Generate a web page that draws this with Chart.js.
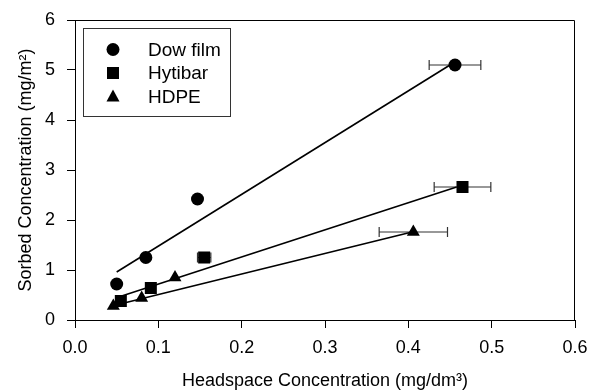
<!DOCTYPE html>
<html>
<head>
<meta charset="utf-8">
<script src="https://cdn.jsdelivr.net/npm/chart.js@4/dist/chart.umd.min.js"></script>
<style>
  html, body { margin: 0; padding: 0; background: #fff; }
  #wrap { width: 589px; height: 392px; }
</style>
</head>
<body>
<div id="wrap"><canvas id="myChart"></canvas></div>
<script>
const seriesNames = ['Dow film', 'Hytibar', 'HDPE'];

const dowX = [0.050, 0.085, 0.147, 0.456];
const dowY = [0.72, 1.25, 2.42, 5.10];
const dowErr = [0, 0, 0, 0.031];

const hytX = [0.055, 0.091, 0.155, 0.465];
const hytY = [0.38, 0.64, 1.25, 2.66];
const hytErr = [0, 0, 0.008, 0.034];

const hdpeX = [0.046, 0.080, 0.120, 0.406];
const hdpeY = [0.28, 0.44, 0.85, 1.76];
const hdpeErr = [0, 0, 0, 0.041];

// fitted lines, end points
const dowFitX = [0.050, 0.450];
const dowFitY = [0.96, 5.10];
const hytFitX = [0.056, 0.458];
const hytFitY = [0.48, 2.66];
const hdpeFitX = [0.054, 0.402];
const hdpeFitY = [0.32, 1.75];

const xTicks = [0, 0.1, 0.2, 0.3, 0.4, 0.5, 0.6];
const yTicks = [0, 1, 2, 3, 4, 5, 6];

const FONT = '"Liberation Sans", Arial, sans-serif';

function pts(xs, ys) {
    return xs.map((x, i) => ({ x: x, y: ys[i] }));
}

const markers = [
    { style: 'circle', radius: 6.5 },
    { style: 'rect', radius: 8.5 },
    { style: 'triangle', radius: 7.5 }
];
const errs = [dowErr, hytErr, hdpeErr];

function fitLine(xs, ys) {
    return {
        type: 'line',
        data: pts(xs, ys),
        borderColor: '#000',
        borderWidth: 1.6,
        pointRadius: 0,
        showLine: true,
        fill: false
    };
}

function markerSet(i, xs, ys) {
    return {
        type: 'scatter',
        label: seriesNames[i],
        data: pts(xs, ys),
        pointStyle: markers[i].style,
        pointRadius: markers[i].radius,
        pointHoverRadius: markers[i].radius,
        backgroundColor: '#000',
        borderColor: '#000',
        borderWidth: 0,
        errIndex: i
    };
}

const errorBars = {
    id: 'errorBars',
    beforeDatasetsDraw(chart) {
        const { ctx, scales: { x, y } } = chart;
        ctx.save();
        ctx.strokeStyle = '#333';
        ctx.lineWidth = 1.2;
        chart.data.datasets.forEach(ds => {
            if (ds.errIndex === undefined) return;
            const e = errs[ds.errIndex];
            ds.data.forEach((p, i) => {
                if (!e[i]) return;
                const x1 = x.getPixelForValue(p.x - e[i]);
                const x2 = x.getPixelForValue(p.x + e[i]);
                const py = y.getPixelForValue(p.y);
                ctx.beginPath();
                ctx.moveTo(x1, py); ctx.lineTo(x2, py);
                ctx.moveTo(x1, py - 5); ctx.lineTo(x1, py + 5);
                ctx.moveTo(x2, py - 5); ctx.lineTo(x2, py + 5);
                ctx.stroke();
            });
        });
        ctx.restore();
    }
};

const frameAndLegend = {
    id: 'frameAndLegend',
    afterDraw(chart) {
        const { ctx, chartArea: { top, right, bottom, left } } = chart;
        ctx.save();
        ctx.strokeStyle = '#000';
        ctx.lineWidth = 1;
        ctx.beginPath();
        ctx.moveTo(left, top + 0.5);
        ctx.lineTo(right - 0.5, top + 0.5);
        ctx.lineTo(right - 0.5, bottom);
        ctx.stroke();

        // legend box
        ctx.strokeStyle = '#333';
        ctx.strokeRect(83.5, 28.5, 147, 88);
        ctx.fillStyle = '#000';
        ctx.font = '19px ' + FONT;
        ctx.textBaseline = 'middle';
        const rows = [49.5, 73, 96.5];
        const mx = 113;
        // circle
        ctx.beginPath();
        ctx.arc(mx, rows[0], 6.5, 0, Math.PI * 2);
        ctx.fill();
        // square
        ctx.fillRect(mx - 6, rows[1] - 6, 12, 12);
        // triangle
        ctx.beginPath();
        ctx.moveTo(mx, rows[2] - 7);
        ctx.lineTo(mx + 6.5, rows[2] + 5);
        ctx.lineTo(mx - 6.5, rows[2] + 5);
        ctx.closePath();
        ctx.fill();
        seriesNames.forEach((n, i) => ctx.fillText(n, 148, rows[i] + 1));
        ctx.restore();
    }
};

const config = {
    type: 'scatter',
    data: {
        datasets: [
            fitLine(dowFitX, dowFitY),
            fitLine(hytFitX, hytFitY),
            fitLine(hdpeFitX, hdpeFitY),
            markerSet(0, dowX, dowY),
            markerSet(1, hytX, hytY),
            markerSet(2, hdpeX, hdpeY)
        ]
    },
    options: {
        responsive: true,
        maintainAspectRatio: false,
        animation: false,
        layout: { padding: { left: 0, right: 14, top: 20, bottom: 0 } },
        plugins: {
            legend: { display: false },
            tooltip: { enabled: false }
        },
        scales: {
            x: {
                type: 'linear',
                min: 0,
                max: 0.6,
                afterBuildTicks(scale) { scale.ticks = xTicks.map(v => ({ value: v })); },
                afterFit(scale) {
                    scale.height = 72;
                    scale.paddingLeft = 0;
                    scale.paddingRight = 0;
                },
                ticks: {
                    color: '#000',
                    font: { family: FONT, size: 18 },
                    padding: 9,
                    maxRotation: 0,
                    callback: v => v.toFixed(1)
                },
                grid: { drawOnChartArea: false, drawTicks: true, tickLength: 8, color: '#000' },
                border: { display: true, color: '#000', width: 1 },
                title: {
                    display: true,
                    text: 'Headspace Concentration (mg/dm³)',
                    color: '#000',
                    font: { family: FONT, size: 18 },
                    padding: { top: 0, bottom: 0 }
                }
            },
            y: {
                type: 'linear',
                min: 0,
                max: 6,
                afterBuildTicks(scale) { scale.ticks = yTicks.map(v => ({ value: v })); },
                afterFit(scale) {
                    scale.width = 75;
                    scale.paddingTop = 0;
                    scale.paddingBottom = 0;
                },
                ticks: {
                    color: '#000',
                    font: { family: FONT, size: 18 },
                    padding: 12
                },
                grid: { drawOnChartArea: false, drawTicks: true, tickLength: 8, color: '#000' },
                border: { display: true, color: '#000', width: 1 },
                title: {
                    display: true,
                    text: 'Sorbed Concentration (mg/m²)',
                    color: '#000',
                    font: { family: FONT, size: 18 },
                    padding: { top: 15, bottom: 0 }
                }
            }
        }
    },
    plugins: [errorBars, frameAndLegend]
};

new Chart(document.getElementById('myChart'), config);
</script>
</body>
</html>
